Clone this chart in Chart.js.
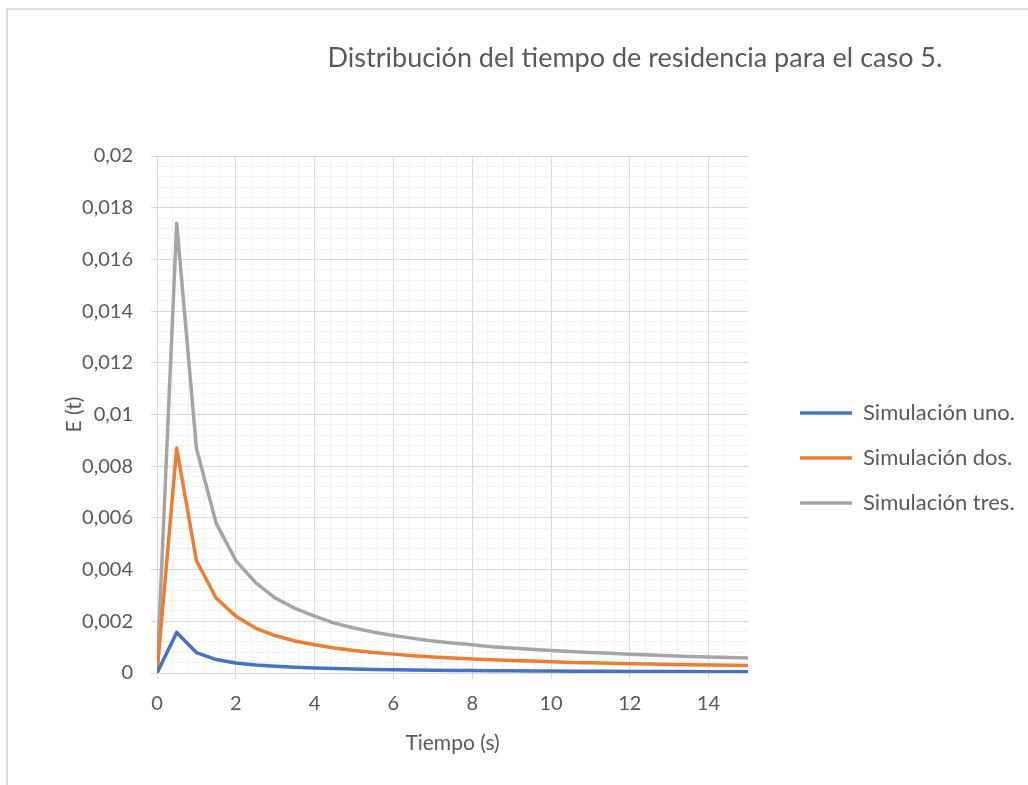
<!DOCTYPE html>
<html>
<head>
<meta charset="utf-8">
<title>Distribución del tiempo de residencia para el caso 5.</title>
<script src="https://cdn.jsdelivr.net/npm/chart.js@4.4.1/dist/chart.umd.min.js"></script>
<style>
  html, body { margin: 0; padding: 0; background: #fff; overflow: hidden; }
  .frame {
    position: absolute; left: 6px; top: 8px; width: 1100px; height: 900px;
    border-left: 2px solid #dcdcdc; border-top: 2px solid #dcdcdc;
  }
  .wrap { position: absolute; left: 0; top: 0; width: 1028px; height: 785px; }
</style>
</head>
<body>
<div class="frame"></div>
<div class="wrap"><canvas id="chart"></canvas></div>
<script>
// ============================== DATA

const times = [0, 0.5, 1, 1.5, 2, 2.5, 3, 3.5, 4, 4.5, 5, 5.5, 6, 6.5, 7, 7.5,
  8, 8.5, 9, 9.5, 10, 10.5, 11, 11.5, 12, 12.5, 13, 13.5, 14, 14.5, 15];

const simUno = [0, 0.00157, 0.00079, 0.00052, 0.00039, 0.00031, 0.00026, 0.00022,
  0.00019, 0.00017, 0.00015, 0.00014, 0.00013, 0.00012, 0.00011, 0.0001, 0.0001,
  0.00009, 0.00009, 0.00008, 0.00008, 0.00007, 0.00007, 0.00007, 0.00006, 0.00006,
  0.00006, 0.00006, 0.00005, 0.00005, 0.00005];

const simDos = [0, 0.0087, 0.00435, 0.0029, 0.0022, 0.00174, 0.00145, 0.00124,
  0.00109, 0.00097, 0.00087, 0.00079, 0.00073, 0.00067, 0.00062, 0.00058, 0.00054,
  0.00051, 0.00048, 0.00046, 0.00044, 0.00041, 0.0004, 0.00038, 0.00036, 0.00035,
  0.00033, 0.00032, 0.00031, 0.0003, 0.00029];

const simTres = [0, 0.0174, 0.0087, 0.0058, 0.00435, 0.0035, 0.0029, 0.0025,
  0.0022, 0.00193, 0.00174, 0.00158, 0.00145, 0.00134, 0.00124, 0.00116, 0.00109,
  0.00102, 0.00097, 0.00092, 0.00087, 0.00083, 0.00079, 0.00076, 0.00073, 0.0007,
  0.00067, 0.00064, 0.00062, 0.0006, 0.00058];

const seriesNames = ['Simulación uno.', 'Simulación dos.', 'Simulación tres.'];
const seriesColors = ['#4472c4', '#ed7d31', '#a5a5a5'];

const xMin = 0, xMax = 15, xMinorStep = 0.4, xMajorStep = 2;
const yMin = 0, yMax = 0.02, yMinorStep = 0.0004, yMajorStep = 0.002;

// ============================== UTILS

function isMajor(v, step) {
  return Math.abs(v / step - Math.round(v / step)) < 1e-6;
}

function fmt(v) {
  return String(parseFloat(v.toFixed(4))).replace('.', ',');
}

function toPoints(values) {
  return values.map((y, i) => ({ x: times[i], y }));
}

function gridColor(step, max) {
  return (ctx) => {
    const v = ctx.tick.value;
    if (Math.abs(v - max) < 1e-9 && !isMajor(v, step)) return 'rgba(0,0,0,0)';
    return isMajor(v, step) ? '#d9d9d9' : '#f2f2f2';
  };
}

function tickColor(step) {
  return (ctx) => isMajor(ctx.tick.value, step) ? '#d9d9d9' : 'rgba(0,0,0,0)';
}

const chartTitle = {
  id: 'chartTitle',
  afterDraw(chart, args, opts) {
    const { ctx } = chart;
    ctx.save();
    ctx.font = opts.font;
    ctx.fillStyle = opts.color;
    ctx.textAlign = 'center';
    ctx.textBaseline = 'middle';
    ctx.fillText(opts.text, opts.x, opts.y);
    ctx.restore();
  }
};

// ============================== CHART JS

Chart.defaults.font.family = 'Lato, "Open Sans", sans-serif';
Chart.defaults.color = '#595959';

const datasets = [simUno, simDos, simTres].map((values, i) => ({
  label: seriesNames[i],
  data: toPoints(values),
  borderColor: seriesColors[i],
  backgroundColor: seriesColors[i],
  borderWidth: 3.5,
  borderCapStyle: 'round',
  borderJoinStyle: 'round',
  pointRadius: 0,
  tension: 0,
}));

new Chart(document.getElementById('chart'), {
  type: 'line',
  data: { datasets },
  options: {
    responsive: true,
    maintainAspectRatio: false,
    animation: false,
    layout: { padding: { top: 156, left: 58, right: 3, bottom: 25 } },
    scales: {
      x: {
        type: 'linear',
        min: xMin,
        max: xMax,
        afterFit: (scale) => { scale.height = 87; },
        border: { color: '#d9d9d9' },
        grid: { color: gridColor(xMajorStep, xMax), tickColor: tickColor(xMajorStep), tickLength: 6 },
        ticks: {
          stepSize: xMinorStep,
          autoSkip: false,
          maxRotation: 0,
          padding: 13,
          font: { size: 20 },
          callback: (v) => isMajor(v, xMajorStep) ? fmt(v) : '',
        },
        title: { display: true, text: 'Tiempo (s)', font: { size: 21 }, padding: { top: 4, bottom: 4 } },
      },
      y: {
        min: yMin,
        max: yMax,
        afterFit: (scale) => { scale.width = 99; },
        border: { color: '#d9d9d9' },
        grid: { color: gridColor(yMajorStep, yMax), tickColor: tickColor(yMajorStep), tickLength: 6 },
        ticks: {
          stepSize: yMinorStep,
          autoSkip: false,
          padding: 18,
          font: { size: 20 },
          callback: (v) => isMajor(v, yMajorStep) ? fmt(v) : '',
        },
        title: { display: true, text: 'E (t)', font: { size: 21 }, padding: { top: 4, bottom: 4 } },
      },
      gap: {
        position: 'right',
        afterFit: (scale) => { scale.width = 29; },
        grid: { display: false },
        border: { display: false },
        ticks: { display: false },
      },
    },
    plugins: {
      tooltip: { enabled: false },
      legend: {
        position: 'right',
        align: 'center',
        maxWidth: 250,
        labels: {
          usePointStyle: true,
          pointStyle: 'line',
          pointStyleWidth: 52,
          padding: 23,
          color: '#595959',
          font: { size: 22 },
        },
      },
      chartTitle: {
        text: 'Distribución del tiempo de residencia para el caso 5.',
        font: '27px Lato, "Open Sans", sans-serif',
        color: '#595959',
        x: 635,
        y: 58,
      },
    },
  },
  plugins: [chartTitle],
});
</script>
</body>
</html>
